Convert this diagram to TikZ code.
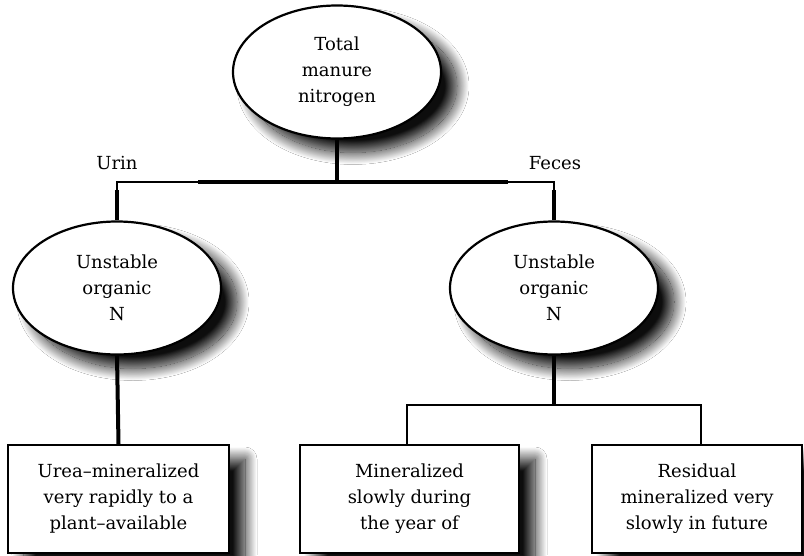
\documentclass[tikz,border=0pt]{standalone}
\usepackage{fontspec}
\setmainfont{DejaVu Serif}
\usetikzlibrary{shapes.geometric,shadows.blur}
\begin{document}
\begin{tikzpicture}[x=1pt,y=-1pt,
  shad/.style={blur shadow={shadow xshift=16pt,shadow yshift=-14pt,shadow blur radius=12pt,shadow opacity=95,shadow blur steps=30}},
  oval/.style={ellipse,draw,line width=2.2pt,fill=white,minimum width=208pt,minimum height=133pt,inner sep=0pt,align=center,font=\fontsize{18}{26}\selectfont,shad},
  outbox/.style={rectangle,draw,line width=2.2pt,fill=white,minimum height=108pt,inner sep=0pt,align=center,font=\fontsize{18}{26}\selectfont,shad},
  thickline/.style={line width=4pt},
  thinline/.style={line width=2pt},
  lbl/.style={font=\fontsize{18}{22}\selectfont}]
\useasboundingbox (0,0) rectangle (804,555);
\fill[white] (0,0) rectangle (804,555);
\node[oval] (top) at (337,72) {Total\\manure\\nitrogen};
\node[oval] (left) at (117,288) {Unstable\\organic\\N};
\node[oval] (right) at (554,288) {Unstable\\organic\\N};
\node[outbox,minimum width=221pt] (b1) at (118.5,499) {Urea–mineralized\\very rapidly to a\\plant–available};
\node[outbox,minimum width=219pt] (b2) at (409.5,499) {Mineralized\\slowly during\\the year of};
\node[outbox,minimum width=210pt] (b3) at (697,499) {Residual\\mineralized very\\slowly in future};
\node[lbl] (urin) at (117,163) {Urin};
\node[lbl] (feces) at (555,163) {Feces};
\coordinate (jt) at (337,182);
\coordinate (hl) at (198,182);
\coordinate (hr) at (508,182);
\coordinate (cl) at (117,182);
\coordinate (cr) at (554,182);
\coordinate (dl) at (117,190);
\coordinate (dr) at (554,190);
\coordinate (jb) at (554,405);
\coordinate (bl) at (407,405);
\coordinate (br) at (701,405);
\draw[thickline] (top.south) -- (jt);
\draw[thickline] (hl) -- (hr);
\draw[thinline] (hl) -- (cl) -- (dl);
\draw[thinline] (hr) -- (cr) -- (dr);
\draw[thickline] (dl) -- (left.north);
\draw[thickline] (dr) -- (right.north);
\draw[thickline] (left.south) -- (b1.north);
\draw[thickline] (right.south) -- (jb);
\draw[line width=2.6pt] (bl |- b2.north) -- (bl) -- (br) -- (br |- b3.north);
\end{tikzpicture}
\end{document}
